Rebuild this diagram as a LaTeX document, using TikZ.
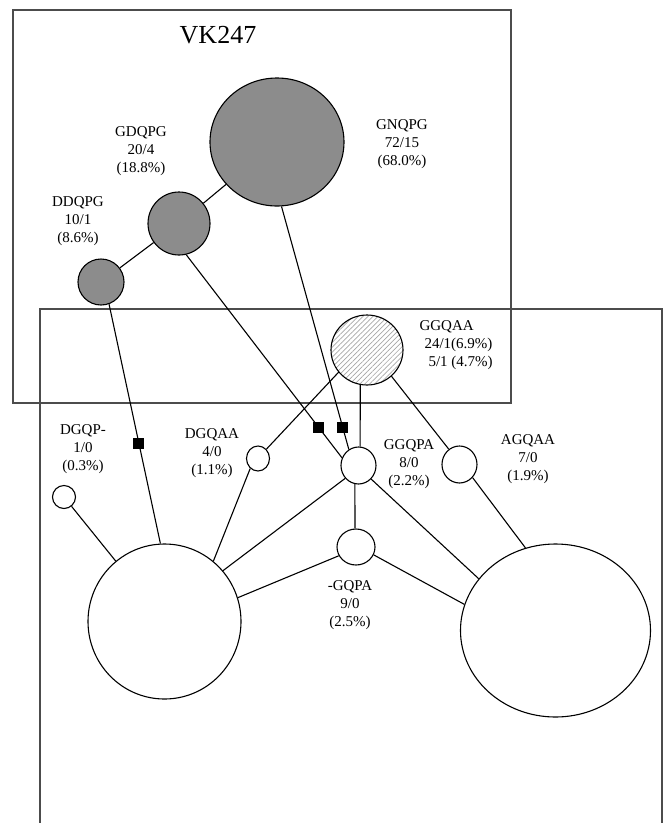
\documentclass[tikz,border=0pt]{standalone}
\usepackage{fontspec}
\setmainfont{Liberation Serif}
\usetikzlibrary{shapes.geometric,patterns.meta}
\definecolor{hapgray}{gray}{0.55}
\definecolor{boxgray}{gray}{0.3}

\begin{document}
\begin{tikzpicture}[x=1pt,y=-1pt,line width=1.1pt,
  hap/.style={ellipse,draw,inner sep=0pt,fill=white},
  dark/.style={hap,fill=hapgray},
  txt/.style={font=\fontsize{15}{18}\selectfont,align=center,inner sep=0pt},
  sq/.style={rectangle,fill=black,minimum size=11pt,inner sep=0pt}]
  \useasboundingbox (0,0) rectangle (666,823);
  % the two groups
  \draw[boxgray,line width=1.2pt] (13,10) rectangle (511,403);
  \draw[boxgray,line width=1.2pt] (40,823) -- (40,309) -- (662,309) -- (662,823);
  \node (vk) [txt,font=\fontsize{26}{30}\selectfont] at (218,35) {VK247};
  % haplotypes
  \node (gn) [dark,minimum width=134pt,minimum height=128pt] at (277,142) {};
  \node (gd) [dark,minimum width=62pt,minimum height=63pt] at (179,223.5) {};
  \node (dd) [dark,minimum size=46pt] at (101,282) {};
  \node (aa) [hap,pattern={Lines[angle=45,distance=3.5pt,line width=.7pt]},pattern color=black!35,
    minimum width=72pt,minimum height=70pt] at (367,350) {};
  \node (pa) [hap,minimum width=35pt,minimum height=37pt] at (358.5,465.5) {};
  \node (ag) [hap,minimum width=35pt,minimum height=37pt] at (459.5,464.5) {};
  \node (dq) [hap,minimum width=23pt,minimum height=25pt] at (258,458.5) {};
  \node (dp) [hap,minimum size=23pt] at (64,497) {};
  \node (mp) [hap,minimum width=38pt,minimum height=36pt] at (356,547) {};
  \node (L) [hap,minimum width=153pt,minimum height=155pt] at (164.5,621.5) {};
  \node (R) [hap,minimum width=190pt,minimum height=173pt] at (555.5,630.5) {};
  % labels
  \node (gnL) [txt] at (402,144) {GNQPG\\72/15\\(68.0\%)};
  \node (gdL) [txt] at (141,151) {GDQPG\\20/4\\(18.8\%)};
  \node (ddL) [txt] at (78,221) {DDQPG\\10/1\\(8.6\%)};
  \node (aaL) [txt,align=left,anchor=west] at (419,345) {GGQAA\\\hspace*{5pt}24/1(6.9\%)\\\hspace*{9pt}5/1 (4.7\%)};
  \node (paL) [txt] at (409,464) {GGQPA\\8/0\\(2.2\%)};
  \node (agL) [txt] at (528,459) {AGQAA\\7/0\\(1.9\%)};
  \node (dqL) [txt] at (212,453) {DGQAA\\4/0\\(1.1\%)};
  \node (dpL) [txt] at (83,449) {DGQP-\\1/0\\(0.3\%)};
  \node (mpL) [txt] at (350,605) {-GQPA\\9/0\\(2.5\%)};
  % links
  \draw (dd) -- (gd);
  \draw (gd) -- (gn);
  \draw (dd.-70) -- node[sq,pos=.58] (s1) {} (L.93);
  \draw (gd.-77) -- node[sq,pos=.85] (s2) {} (pa.155);
  \draw (gn.-86) -- node[sq,pos=.91] (s3) {} (pa.121);
  \draw (aa.-142) -- (dq.48);
  \draw (aa.-101) -- (pa.85);
  \draw (aa.-47) -- (ag.125);
  \draw (dp) -- (L);
  \draw (dq.-128) -- (L.51);
  \draw (pa.-136) -- (L.41);
  \draw (mp.-153) -- (L.18);
  \draw (pa.-101) -- (mp.93);
  \draw (pa.-47) -- (R.146);
  \draw (mp.-24) -- (R.164);
  \draw (ag.-45) -- (R.110);
\end{tikzpicture}
\end{document}
